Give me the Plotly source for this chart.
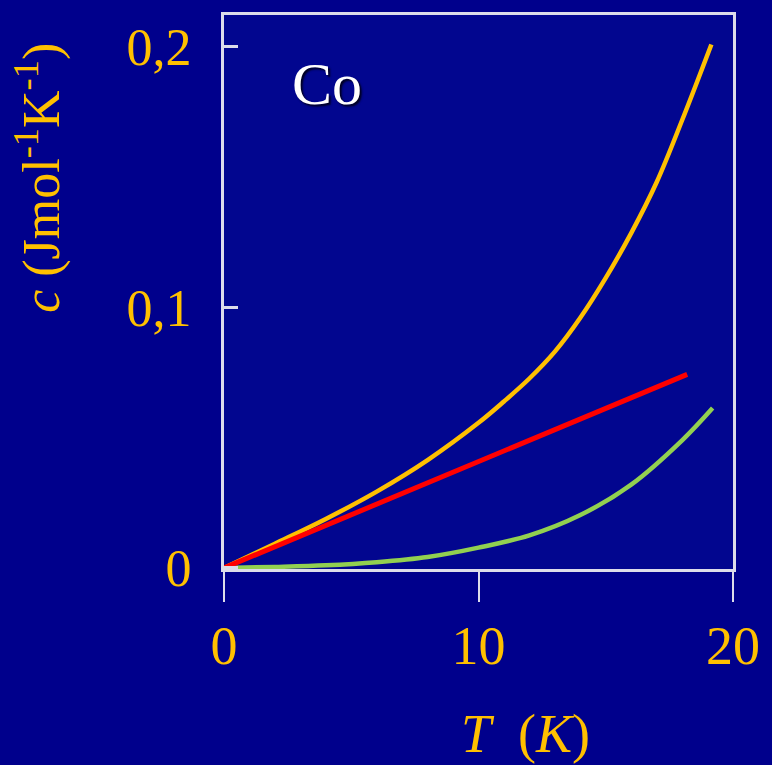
import plotly.graph_objects as go

# Data
yellow_T = [0, 2, 4, 6, 8, 10, 11, 12, 13, 14, 15, 16, 17, 18, 19.15]
yellow_c = [0, 0.0093, 0.0188, 0.0293, 0.0414, 0.0557, 0.0639, 0.0727, 0.0830, 0.0960,
            0.1113, 0.1285, 0.1480, 0.1718, 0.2009]

green_T = [0, 2, 4, 6, 8, 10, 12, 14, 16, 18, 19.2]
green_c = [0, 0.0004, 0.0010, 0.0022, 0.0042, 0.0078, 0.0125, 0.0203, 0.0320, 0.0490, 0.0614]

red_T = [0, 18.2]
red_c = [0, 0.0743]

x_ticks = [0, 10, 20]
x_ticktext = ["0", "10", "20"]
y_ticks = [0, 0.1, 0.2]
y_ticktext = ["0", "0,1", "0,2"]

GOLD = "#FFC000"
FRAME = "#DCDCEA"
PAPER = "#00008C"

fig = go.Figure()
fig.add_trace(go.Scatter(x=yellow_T, y=yellow_c, mode="lines",
                         line=dict(color=GOLD, width=4.5, shape="spline", smoothing=1.0),
                         showlegend=False, hoverinfo="skip"))
fig.add_trace(go.Scatter(x=green_T, y=green_c, mode="lines",
                         line=dict(color="#92D050", width=4.5, shape="spline", smoothing=1.0),
                         showlegend=False, hoverinfo="skip"))
fig.add_trace(go.Scatter(x=red_T, y=red_c, mode="lines",
                         line=dict(color="#FF0000", width=5),
                         showlegend=False, hoverinfo="skip"))

fig.update_layout(
    width=772, height=765,
    margin=dict(l=224, r=35, t=12, b=196),
    paper_bgcolor=PAPER,
    plot_bgcolor="#02068F",
    font=dict(family="Liberation Serif", color=GOLD),
)
fig.update_xaxes(
    range=[0, 20], tickvals=x_ticks, ticktext=x_ticktext,
    showgrid=False, zeroline=False,
    showline=True, linecolor=FRAME, linewidth=3, mirror=True,
    ticks="outside", ticklen=30, tickwidth=2, tickcolor=FRAME,
    tickfont=dict(family="Liberation Serif", size=54, color=GOLD),
    ticklabelstandoff=-3,
)
fig.update_yaxes(
    range=[-0.0004, 0.2122], tickvals=y_ticks, ticktext=y_ticktext,
    showgrid=False, zeroline=False,
    showline=True, linecolor=FRAME, linewidth=3, mirror=True,
    ticks="inside", ticklen=14, tickwidth=3, tickcolor=FRAME,
    tickfont=dict(family="Liberation Serif", size=52, color=GOLD),
    ticklabelstandoff=19,
)

fig.add_annotation(text="<i>c</i> (Jmol<sup>-1</sup>K<sup>-1</sup>)",
                   xref="paper", yref="paper", x=-0.364, y=0.7056,
                   xanchor="center", yanchor="middle", textangle=-90,
                   showarrow=False,
                   font=dict(family="Liberation Serif", size=52, color=GOLD))
fig.add_annotation(text="<i>T</i>  (<i>K</i>)",
                   xref="paper", yref="paper", x=0.5926, y=-0.298,
                   xanchor="center", yanchor="middle",
                   showarrow=False,
                   font=dict(family="Liberation Serif", size=54, color=GOLD))
fig.add_annotation(text="Co",
                   xref="paper", yref="paper", x=0.2027, y=0.876,
                   xanchor="center", yanchor="middle",
                   showarrow=False,
                   font=dict(family="Liberation Serif", size=60, color="white",
                             shadow="2px 2px 2px #000020"))

fig.write_html("out.html",
               config={"displayModeBar": False},
               post_script="document.body.style.margin='0';"
                           "document.body.style.background='%s';" % PAPER)
